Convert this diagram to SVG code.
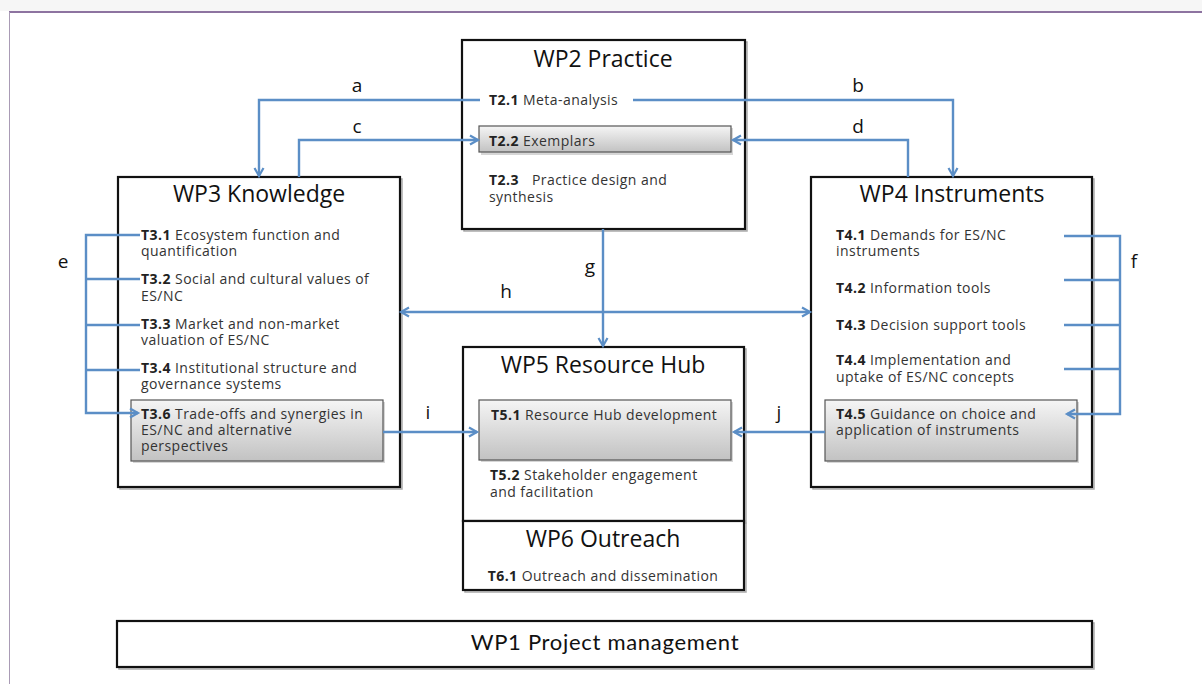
<svg xmlns="http://www.w3.org/2000/svg" width="1202" height="684" viewBox="0 0 1202 684">
<defs>
<linearGradient id="gbox" x1="0" y1="0" x2="0" y2="1">
<stop offset="0" stop-color="#f5f5f5"/>
<stop offset="1" stop-color="#c2c2c2"/>
</linearGradient>
<marker id="ah" markerUnits="userSpaceOnUse" markerWidth="14" markerHeight="14" refX="10" refY="6" orient="auto-start-reverse">
<path d="M2,1.5 L10,6 L2,10.5" fill="none" stroke="#5b8ec6" stroke-width="2.2" stroke-linejoin="miter"/>
</marker>
</defs>
<style>
.wp{fill:#fff;stroke:#111;stroke-width:2.2}
.sh{fill:none;stroke:#aaa;stroke-width:1.5}
.gb{fill:url(#gbox);stroke:#555;stroke-width:1.2}
.gs{fill:#bbb;stroke:none;opacity:.6}
.t{font-family:"Open Sans","DejaVu Sans",sans-serif;fill:#111}
.title{font-size:23px;text-anchor:middle}
.task{font-size:14px;letter-spacing:0.45px;fill:#333}
.task tspan.b{font-weight:700;fill:#222}
.lbl{font-family:"Open Sans","DejaVu Sans",sans-serif;font-size:19px;fill:#111;text-anchor:middle}
.con{fill:none;stroke:#5b8ec6;stroke-width:2.4}
.pm{font-family:Lato,"Open Sans",sans-serif;font-size:22px;letter-spacing:0.7px;fill:#111;text-anchor:middle}
</style>
<rect x="0" y="0" width="1202" height="684" fill="#fff"/>
<rect x="0" y="0" width="1202" height="11" fill="#f6f6f6"/>
<line x1="9" y1="12" x2="1202" y2="12" stroke="#8d73a0" stroke-width="2"/>
<line x1="9.5" y1="12" x2="9.5" y2="684" stroke="#a99bb5" stroke-width="1"/>

<g id="wp2">
<rect class="sh" x="464" y="42" width="283" height="189"/>
<rect class="wp" x="462" y="40" width="283" height="189"/>
<text class="t title" x="603" y="67">WP2 Practice</text>
<text class="t task" x="489" y="105"><tspan class="b">T2.1</tspan> Meta-analysis</text>
<rect class="gs" x="481" y="128" width="252" height="27"/>
<rect class="gb" x="479" y="126" width="252" height="26"/>
<text class="t task" x="489" y="146"><tspan class="b">T2.2</tspan> Exemplars</text>
<text class="t task" x="489" y="185"><tspan class="b">T2.3</tspan><tspan dx="13">Practice design and</tspan><tspan x="489" dy="17">synthesis</tspan></text>
</g>

<g id="wp3">
<rect class="sh" x="120" y="179" width="282" height="310"/>
<rect class="wp" x="118" y="177" width="282" height="310"/>
<text class="t title" x="259" y="202">WP3 Knowledge</text>
<text class="t task" x="141" y="240"><tspan class="b">T3.1</tspan> Ecosystem function and<tspan x="141" dy="16">quantification</tspan></text>
<text class="t task" x="141" y="284"><tspan class="b">T3.2</tspan> Social and cultural values of<tspan x="141" dy="17">ES/NC</tspan></text>
<text class="t task" x="141" y="329"><tspan class="b">T3.3</tspan> Market and non-market<tspan x="141" dy="16">valuation of ES/NC</tspan></text>
<text class="t task" x="141" y="373"><tspan class="b">T3.4</tspan> Institutional structure and<tspan x="141" dy="16">governance systems</tspan></text>
<rect class="gs" x="133" y="402" width="252" height="61"/>
<rect class="gb" x="131" y="400" width="252" height="61"/>
<text class="t task" x="141" y="419"><tspan class="b">T3.6</tspan> Trade-offs and synergies in<tspan x="141" dy="16">ES/NC and alternative</tspan><tspan x="141" dy="16">perspectives</tspan></text>
</g>

<g id="wp4">
<rect class="sh" x="813" y="179" width="281" height="310"/>
<rect class="wp" x="811" y="177" width="281" height="310"/>
<text class="t title" x="952" y="202">WP4 Instruments</text>
<text class="t task" x="836" y="240"><tspan class="b">T4.1</tspan> Demands for ES/NC<tspan x="836" dy="16">instruments</tspan></text>
<text class="t task" x="836" y="293"><tspan class="b">T4.2</tspan> Information tools</text>
<text class="t task" x="836" y="330"><tspan class="b">T4.3</tspan> Decision support tools</text>
<text class="t task" x="836" y="365"><tspan class="b">T4.4</tspan> Implementation and<tspan x="836" dy="17">uptake of ES/NC concepts</tspan></text>
<rect class="gs" x="827" y="402" width="252" height="61"/>
<rect class="gb" x="825" y="400" width="252" height="61"/>
<text class="t task" x="836" y="419"><tspan class="b">T4.5</tspan> Guidance on choice and<tspan x="836" dy="16">application of instruments</tspan></text>
</g>

<g id="wp5">
<rect class="sh" x="465" y="349" width="281" height="174"/>
<rect class="wp" x="463" y="347" width="281" height="174"/>
<text class="t title" x="603" y="373">WP5 Resource Hub</text>
<rect class="gs" x="481" y="402" width="252" height="60"/>
<rect class="gb" x="479" y="400" width="252" height="60"/>
<text class="t task" x="491" y="420"><tspan class="b">T5.1</tspan> Resource Hub development</text>
<text class="t task" x="490" y="480"><tspan class="b">T5.2</tspan> Stakeholder engagement<tspan x="490" dy="17">and facilitation</tspan></text>
</g>

<g id="wp6">
<rect class="sh" x="465" y="523" width="281" height="69"/>
<rect class="wp" x="463" y="521" width="281" height="69"/>
<text class="t title" x="603" y="547">WP6 Outreach</text>
<text class="t task" x="603" y="581" text-anchor="middle"><tspan class="b">T6.1</tspan> Outreach and dissemination</text>
</g>

<g id="wp1">
<rect class="sh" x="119" y="623" width="975" height="46"/>
<rect class="wp" x="117" y="621" width="975" height="46"/>
<text class="pm" x="605" y="650">WP1 Project management</text>
</g>

<g id="connectors">
<path class="con" d="M480,100 H259 V176" marker-end="url(#ah)"/>
<path class="con" d="M299,177 V140 H478" marker-end="url(#ah)"/>
<path class="con" d="M633,100 H953 V176" marker-end="url(#ah)"/>
<path class="con" d="M908,177 V140 H733" marker-end="url(#ah)"/>
<path class="con" d="M603,229 V346" marker-end="url(#ah)"/>
<path class="con" d="M401,312 H810" marker-start="url(#ah)" marker-end="url(#ah)"/>
<path class="con" d="M140,235 H86 V413 H138" marker-end="url(#ah)"/>
<path class="con" d="M140,279 H86"/>
<path class="con" d="M140,325 H86"/>
<path class="con" d="M140,370 H86"/>
<path class="con" d="M1064,236 H1120 V414 H1067" marker-end="url(#ah)"/>
<path class="con" d="M1064,280 H1120"/>
<path class="con" d="M1064,325 H1120"/>
<path class="con" d="M1064,369 H1120"/>
<path class="con" d="M383,432 H477" marker-end="url(#ah)"/>
<path class="con" d="M825,432 H734" marker-end="url(#ah)"/>
<text class="lbl" x="357" y="92">a</text>
<text class="lbl" x="858" y="92">b</text>
<text class="lbl" x="357" y="133">c</text>
<text class="lbl" x="858" y="133">d</text>
<text class="lbl" x="63" y="268">e</text>
<text class="lbl" x="1134" y="268">f</text>
<text class="lbl" x="590" y="273">g</text>
<text class="lbl" x="506" y="298">h</text>
<text class="lbl" x="428" y="419">i</text>
<text class="lbl" x="779" y="419">j</text>
</g>
</svg>
